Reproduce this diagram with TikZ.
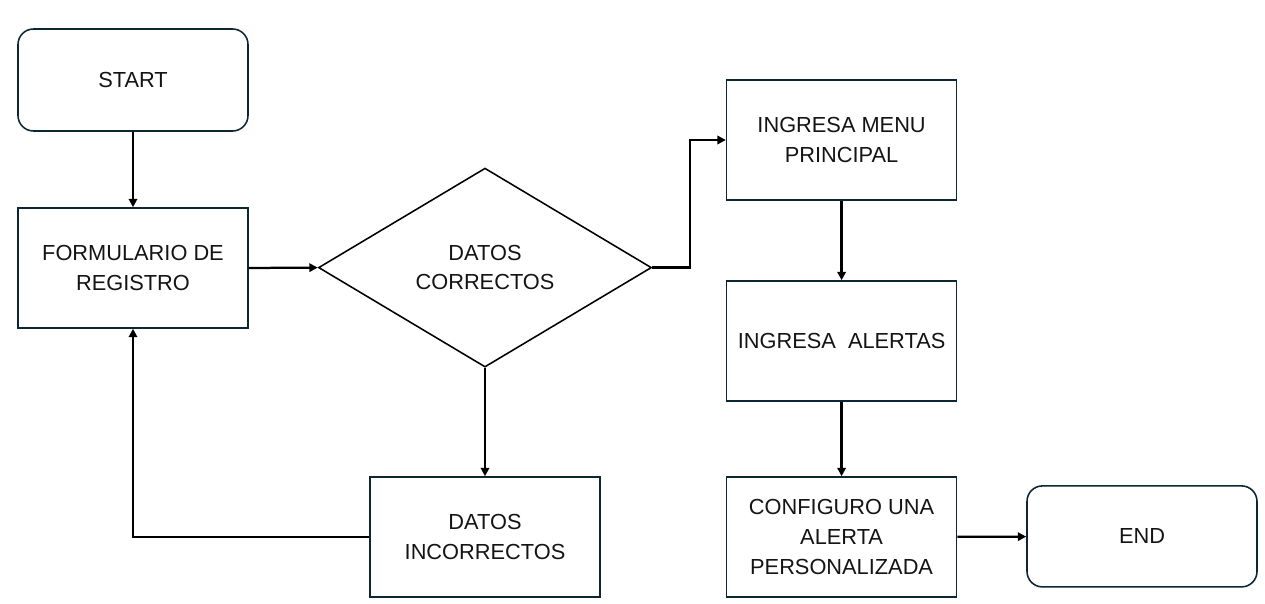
\documentclass[tikz,border=0pt]{standalone}
\usepackage{fontspec}
\setmainfont{Liberation Sans}
\usetikzlibrary{arrows.meta,positioning,shapes.geometric}
\definecolor{ink}{RGB}{20,20,20}
\definecolor{frame}{RGB}{12,38,52}
\tikzset{
  every picture/.style={color=ink, font=\fontsize{15.5}{21}\selectfont},
  box/.style={draw=frame, line width=1.1pt, fill=white, inner sep=4pt, align=center, minimum width=5.75cm, minimum height=3cm},
  term/.style={box, rounded corners=11pt, minimum height=2.55cm},
  check/.style={diamond, draw=black, line width=1.1pt, aspect=1.67, inner sep=0pt, align=center, minimum width=8.325cm, minimum height=4.975cm},
  flow/.style={-{Triangle[length=6pt,width=6pt]}, line width=1.6pt, color=black},
}

\begin{document}
\begin{tikzpicture}
  \useasboundingbox (0,0) rectangle (31.625,-15.1);
  \node[term] (start) at (3.325,-2.0) {START};
  \node[box] (form) at (3.325,-6.7) {FORMULARIO DE\\REGISTRO};
  \node[check] (valid) at (12.125,-6.69) {DATOS\\CORRECTOS};
  \node[box] (wrong) at (12.125,-13.425) {DATOS\\INCORRECTOS};
  \node[box] (menu) at (21.04,-3.5) {INGRESA MENU\\PRINCIPAL};
  \node[box] (alerts) at (21.04,-8.525) {INGRESA\ \ ALERTAS};
  \node[box] (setup) at (21.04,-13.425) {CONFIGURO UNA\\ALERTA\\PERSONALIZADA};
  \node[term, minimum height=2.525cm] (end) at (28.55,-13.41) {END};
  \draw[flow] (start) -- (form);
  \draw[flow] (form.east) -- (valid.west);
  \draw[flow] (valid.east) -- ++(0.95,0) |- (menu.west);
  \draw[flow] (valid.south) -- (wrong.north);
  \draw[flow] (wrong.west) -| (form.south);
  \draw[flow] (menu) -- (alerts);
  \draw[flow] (alerts) -- (setup);
  \draw[flow] (setup) -- (end);
\end{tikzpicture}
\end{document}
